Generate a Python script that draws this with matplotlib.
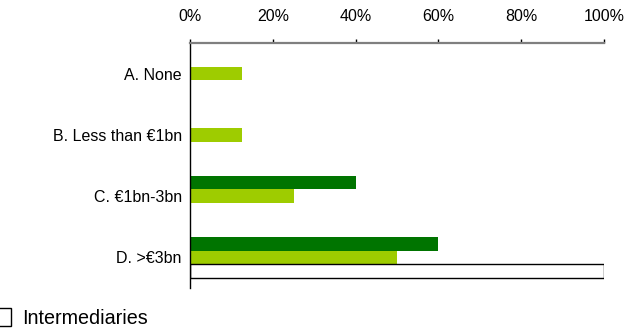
import matplotlib
matplotlib.use("Agg")
import matplotlib.pyplot as plt
from matplotlib.patches import Patch
import numpy as np

plt.rcParams['font.family'] = ['Liberation Sans', 'DejaVu Sans']

categories = ["A. None", "B. Less than €1bn", "C. €1bn-3bn", "D. >€3bn"]
dark_values = [0, 0, 40, 60]
light_values = [12.5, 12.5, 25, 50]
white_values = [0, 0, 0, 100]
white_label = "Intermediaries"
x_ticks = [0, 20, 40, 60, 80, 100]

DARK = "#007400"
LIGHT = "#9ECC00"

fig = plt.figure(figsize=(6.34, 3.34), dpi=100)
ax = fig.add_axes([190 / 634, 1 - 288 / 334, 414 / 634, 245 / 334])

y = np.arange(len(categories))
h = 0.22

ax.barh(y - h, dark_values, height=h, color=DARK, linewidth=0)
ax.barh(y, light_values, height=h, color=LIGHT, linewidth=0)
wv = np.array(white_values, dtype=float)
mask = wv > 0
ax.barh(y[mask] + h, wv[mask], height=h, color="white",
        edgecolor="black", linewidth=1.0)

ax.set_xlim(0, 100)
ax.set_ylim(len(categories) - 0.5, -0.5)

ax.xaxis.tick_top()
ax.set_xticks(x_ticks)
ax.set_xticklabels([f"{t}%" for t in x_ticks])
ax.tick_params(axis="x", direction="out", length=3, width=1, color="black",
               pad=10.5, labelsize=11.5)
ax.set_yticks(y)
ax.set_yticklabels(categories)
ax.tick_params(axis="y", length=0, pad=6, labelsize=11.5)

for s in ["right", "bottom"]:
    ax.spines[s].set_visible(False)
ax.spines["top"].set_color("#7f7f7f")
ax.spines["top"].set_linewidth(1.6)
ax.spines["left"].set_color("black")
ax.spines["left"].set_linewidth(1.0)

handle = Patch(facecolor="white", edgecolor="black", linewidth=1.0)
fig.legend([handle], [white_label], loc="center left",
           bbox_to_anchor=(-9 / 634, 1 - 318 / 334), frameon=False,
           borderpad=0, borderaxespad=0, handlelength=1.0, handleheight=1.0,
           handletextpad=0.6, fontsize=14.2)

fig.savefig("out.png", dpi=100)
